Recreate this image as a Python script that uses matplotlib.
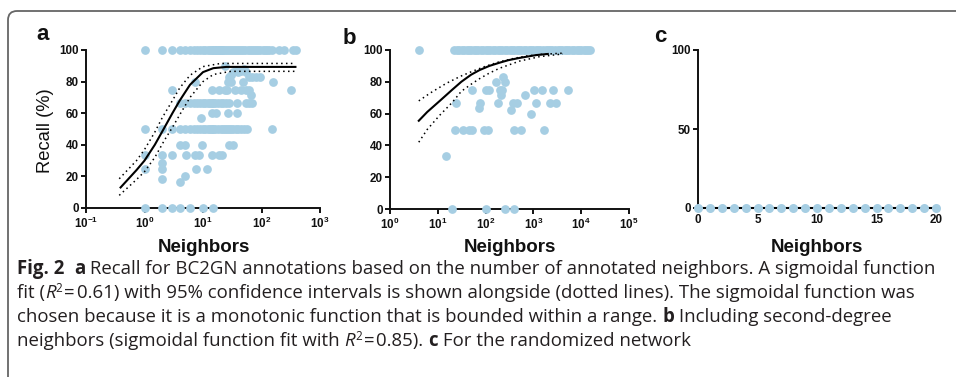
import matplotlib
matplotlib.use("Agg")
import matplotlib.pyplot as plt
from matplotlib import font_manager
from matplotlib.patches import FancyBboxPatch
from matplotlib.transforms import IdentityTransform

# ---------------- data ----------------
# Panel a: recall (%) vs number of annotated neighbours (log axis)
a_at_100 = [1, 2, 3, 4, 5, 6, 7, 8, 9, 10, 11, 12, 13, 14, 15, 16, 17, 18, 19, 20, 21, 22, 24,
            26, 28, 30, 32, 35, 38, 41, 45, 49, 53, 58, 63, 68, 74, 80, 87, 95, 105, 115, 125,
            135, 150, 200, 245, 340, 390]
a_at_90 = [24]
a_at_88 = [51]
a_cluster_x = [30, 33, 36, 40, 45, 55]
a_cluster_y = [84, 86, 87, 86, 87, 86]
a_at_83 = [28, 60, 70, 80, 95]
a_at_80 = [7.4, 27, 30, 48, 160]
a_at_75 = [3, 14, 19, 24, 26, 35, 45, 55, 62, 320]
a_at_71 = [65]
a_at_67 = [4, 5, 6, 7, 8, 9, 10, 11, 12, 13, 14, 15, 16, 18, 20, 22, 25, 28, 38, 55, 62, 70]
a_at_60 = [14, 17, 27, 38]
a_at_57 = [9.4]
a_at_50 = [1, 2, 3, 4, 5, 6, 7, 8, 9, 10, 11, 12, 13, 14, 15, 16, 18, 20, 22, 24, 26, 28, 30,
           33, 36, 40, 45, 50, 57, 150]
a_at_40 = [4, 5, 9.5, 28, 32]
a_at_33 = [1, 2, 3, 5.2, 7.2, 8.7, 14, 19, 21]
a_at_29 = [2]
a_at_25 = [1, 2, 7.5, 11.5]
a_at_20 = [5]
a_at_18 = [2]
a_at_17 = [4]
a_at_0 = [1, 2, 3, 4, 6, 10, 15]

a_fit_x = [0.39, 0.73, 1.0, 1.5, 2.2, 3, 4, 6, 10, 15, 25, 380]
a_fit_y = [13, 24, 30, 40, 51, 60, 68, 78, 86, 88.5, 89.3, 89.3]
a_hi_x = [0.37, 0.73, 1, 1.5, 2, 3, 4, 6, 10, 20, 380]
a_hi_y = [18.5, 30, 37, 48, 57, 68, 76, 84, 89.5, 91.5, 91.5]
a_lo_x = [0.37, 0.73, 1, 1.5, 2.2, 3, 4, 6, 10, 15, 30, 380]
a_lo_y = [8, 18, 23, 32, 43, 51, 59, 70, 80, 84.5, 86.5, 86.5]

# Panel b: including second-degree neighbours
b_at_100 = [4, 22, 25, 28, 32, 36, 40, 45, 50, 56, 63, 70, 80, 90, 100, 112, 125, 140, 160,
            180, 200, 225, 250, 280, 320, 360, 400, 450, 500, 560, 630, 700, 800, 900, 1000,
            1120, 1250, 1400, 1600, 1800, 2000, 2250, 2500, 2800, 3200, 3600, 4000, 4500,
            5000, 5600, 6300, 7000, 8000, 9000, 10000, 11200, 12500, 14000, 15000]
b_at_83 = [230]
b_at_80 = [166, 257]
b_at_75 = [53, 103, 117, 202, 222, 1050, 1480, 2600, 5200]
b_at_72 = [215, 670]
b_at_67 = [24, 75, 180, 380, 450, 1140, 2200, 2900]
b_at_63 = [73]
b_at_62 = [340]
b_at_60 = [910]
b_at_50 = [22.6, 34, 45, 52, 91, 112, 400, 550, 1700]
b_at_33 = [14.5]
b_at_0 = [20, 103, 257, 400]

b_fit_x = [4, 6, 11, 20, 31, 50, 75, 120, 195, 300, 510, 1140, 2000]
b_fit_y = [55.5, 61, 68, 75, 80, 84.5, 87.4, 90, 92, 93.6, 95, 96.8, 97.5]
b_hi_x = [4, 7, 15, 30, 55, 100, 195, 400, 700, 1500, 4100]
b_hi_y = [68, 73, 79, 83.5, 86.8, 89.8, 92.6, 94.8, 96.2, 97.3, 98]
b_lo_x = [4, 6, 11, 20, 31, 50, 75, 120, 195, 510, 1340, 4100]
b_lo_y = [42, 50, 59, 67, 74, 78.5, 82, 85.5, 88.5, 93, 95.8, 97.5]

# Panel c: randomized network
c_neighbors = [0, 1, 2, 3, 4, 5, 6, 7, 8, 9, 10, 11, 12, 13, 14, 15, 16, 17, 18, 19, 20]
c_recall = [0, 0, 0, 0, 0, 0, 0, 0, 0, 0, 0, 0, 0, 0, 0, 0, 0, 0, 0, 0, 0]

a_xticks = [0.1, 1, 10, 100, 1000]
a_xticklabels = [r"$\mathbf{10^{-1}}$", r"$\mathbf{10^{0}}$", r"$\mathbf{10^{1}}$",
                 r"$\mathbf{10^{2}}$", r"$\mathbf{10^{3}}$"]
b_xticks = [1, 10, 100, 1000, 10000, 100000]
b_xticklabels = [r"$\mathbf{10^{0}}$", r"$\mathbf{10^{1}}$", r"$\mathbf{10^{2}}$",
                 r"$\mathbf{10^{3}}$", r"$\mathbf{10^{4}}$", r"$\mathbf{10^{5}}$"]
ab_yticks = [0, 20, 40, 60, 80, 100]
c_xticks = [0, 5, 10, 15, 20]
c_yticks = [0, 50, 100]

# ---------------- style ----------------
plt.rcParams["font.family"] = ["Liberation Sans", "DejaVu Sans"]
plt.rcParams["mathtext.fontset"] = "custom"
plt.rcParams["mathtext.rm"] = "Liberation Sans"
plt.rcParams["mathtext.bf"] = "Liberation Sans:bold"
plt.rcParams["mathtext.it"] = "Liberation Sans:italic"

W, H = 956, 377
fig = plt.figure(figsize=(W / 100, H / 100), dpi=100)
fig.patch.set_facecolor("white")

PT = "#a6cee3"
MS = 6.3
TICKFS = 8.4


def rect(l, r, t, b):
    return [l / W, 1 - b / H, (r - l) / W, (b - t) / H]


def style_axes(ax):
    for s in ("top", "right"):
        ax.spines[s].set_visible(False)
    for s in ("left", "bottom"):
        ax.spines[s].set_linewidth(1.4)
        ax.spines[s].set_color("#111111")
    ax.tick_params(which="major", length=3.8, width=1.4, pad=1.5, labelsize=TICKFS,
                   colors="#111111")
    ax.tick_params(which="minor", length=0)
    for lab in ax.get_yticklabels() + ax.get_xticklabels():
        lab.set_fontweight("bold")


def pts(ax, xs, y):
    ax.plot(xs, [y] * len(xs), "o", color=PT, ms=MS, mec="none", clip_on=False, zorder=3)


axA = fig.add_axes(rect(86, 320, 50, 208))
axB = fig.add_axes(rect(390, 629, 50, 209))
axC = fig.add_axes(rect(698, 936, 50, 208))

# ---- panel a ----
for xs, y in [(a_at_100, 100), (a_at_90, 90), (a_at_88, 88), (a_at_83, 83), (a_at_80, 80),
              (a_at_75, 75), (a_at_71, 71.4), (a_at_67, 66.7), (a_at_60, 60), (a_at_57, 57),
              (a_at_50, 50), (a_at_40, 40), (a_at_33, 33.3), (a_at_29, 28.6), (a_at_25, 25),
              (a_at_20, 20), (a_at_18, 18.2), (a_at_17, 16.7), (a_at_0, 0)]:
    pts(axA, xs, y)
axA.plot(a_cluster_x, a_cluster_y, "o", color=PT, ms=MS, mec="none", zorder=3)
axA.plot(a_fit_x, a_fit_y, color="black", lw=1.5, zorder=4)
axA.plot(a_hi_x, a_hi_y, color="black", lw=1.1, ls=(0, (1, 2.2)), zorder=4)
axA.plot(a_lo_x, a_lo_y, color="black", lw=1.1, ls=(0, (1, 2.2)), zorder=4)
axA.set_xscale("log")
axA.set_xlim(0.1, 1000)
axA.set_ylim(0, 100)
axA.set_xticks(a_xticks)
axA.set_xticklabels(a_xticklabels)
axA.set_yticks(ab_yticks)
style_axes(axA)

# ---- panel b ----
for xs, y in [(b_at_100, 100), (b_at_83, 83), (b_at_80, 80), (b_at_75, 75), (b_at_72, 71.7),
              (b_at_67, 66.7), (b_at_63, 63.3), (b_at_62, 62.3), (b_at_60, 60), (b_at_50, 50),
              (b_at_33, 33.3), (b_at_0, 0)]:
    pts(axB, xs, y)
axB.plot(b_fit_x, b_fit_y, color="black", lw=1.5, zorder=4)
axB.plot(b_hi_x, b_hi_y, color="black", lw=1.1, ls=(0, (1, 2.2)), zorder=4)
axB.plot(b_lo_x, b_lo_y, color="black", lw=1.1, ls=(0, (1, 2.2)), zorder=4)
axB.set_xscale("log")
axB.set_xlim(1, 100000)
axB.set_ylim(0, 100)
axB.set_xticks(b_xticks)
axB.set_xticklabels(b_xticklabels)
axB.set_yticks(ab_yticks)
style_axes(axB)

# ---- panel c ----
axC.plot(c_neighbors, c_recall, color="black", lw=1.5, zorder=3, clip_on=False)
axC.plot(c_neighbors, c_recall, "o", color=PT, ms=6.5, mec="none", zorder=4, clip_on=False)
axC.set_xlim(0, 20)
axC.set_ylim(0, 100)
axC.set_xticks(c_xticks)
axC.set_yticks(c_yticks)
style_axes(axC)
axC.tick_params(axis="x", length=2.5)

# axis titles
for cx in (204, 510, 817):
    fig.text(cx / W, 1 - 247 / H, "Neighbors", ha="center", va="center", fontsize=13.5,
             fontweight="bold", color="#111111")
fig.text(46 / W, 1 - 131 / H, "Recall (%)", rotation=90, ha="center", va="center",
         fontsize=13.2, color="#111111")
for x, y, s in [(43, 34, "a"), (349, 39, "b"), (660, 37, "c")]:
    fig.text(x / W, 1 - y / H, s, ha="center", va="center", fontsize=16,
             fontweight="bold", color="#111111")

# rounded frame (clipped at the right / bottom like the source)
frame = FancyBboxPatch((8, -30), 1100, H - 11 + 30, boxstyle="round,pad=0,rounding_size=9",
                       transform=IdentityTransform(), fill=False, ec="#666666", lw=1.3)
fig.add_artist(frame)

# ---------------- caption ----------------
narrow = None
for fam in ["Liberation Sans Narrow", "Open Sans", "Noto Sans"]:
    try:
        font_manager.findfont(font_manager.FontProperties(family=fam),
                              fallback_to_default=False)
        narrow = fam
        break
    except Exception:
        continue
if narrow is None:
    narrow = "DejaVu Sans"

CAPCOL = "#231f20"
renderer = fig.canvas.get_renderer()

line1 = [("Fig. 2", "b"), ("  ", "r"), ("a", "b"),
         (" Recall for BC2GN annotations based on the number of annotated neighbors. "
          "A sigmoidal function", "r")]
line2 = [("fit (", "r"), ("R", "i"), ("2", "s"), ("=", "g"), ("0.61) with 95% confidence "
          "intervals is shown alongside (dotted lines). The sigmoidal function was", "r")]
line3 = [("chosen because it is a monotonic function that is bounded within a range. ", "r"),
         ("b", "b"), (" Including second-degree", "r")]
line4 = [("neighbors (sigmoidal function fit with ", "r"), ("R", "i"), ("2", "s"),
         ("=", "g"), ("0.85). ", "r"), ("c", "b"), (" For the randomized network", "r")]


def props(kind, size):
    d = dict(family=narrow, size=size)
    if kind == "b":
        d["weight"] = "bold"
    if kind == "i":
        d["style"] = "italic"
    if kind == "s":
        d["size"] = size * 0.62
    return font_manager.FontProperties(**d)


def width(txt, fp):
    w1 = renderer.get_text_width_height_descent("|" + txt + "|", fp, ismath=False)[0]
    w0 = renderer.get_text_width_height_descent("||", fp, ismath=False)[0]
    return w1 - w0


def line_width(segs, size):
    tot = 0
    for t, k in segs:
        tot += width(t, props(k, size))
        if k == "g":
            tot += 4
    return tot


base = 12.0
w_base = line_width(line1, base)
size = base * 918 / w_base


def draw_line(segs, x0, ybase):
    x = x0
    for t, k in segs:
        fp = props(k, size)
        dy = 0
        if k == "s":
            dy = 6
        if k == "g":
            x += 2
        fig.text(x / W, 1 - (ybase - dy) / H, t, fontproperties=fp, ha="left",
                 va="baseline", color=CAPCOL)
        x += width(t, fp)
        if k == "g":
            x += 2


for i, segs in enumerate([line1, line2, line3, line4]):
    draw_line(segs, 17, 274 + 24 * i)

fig.savefig("out.png", dpi=100, facecolor="white")
